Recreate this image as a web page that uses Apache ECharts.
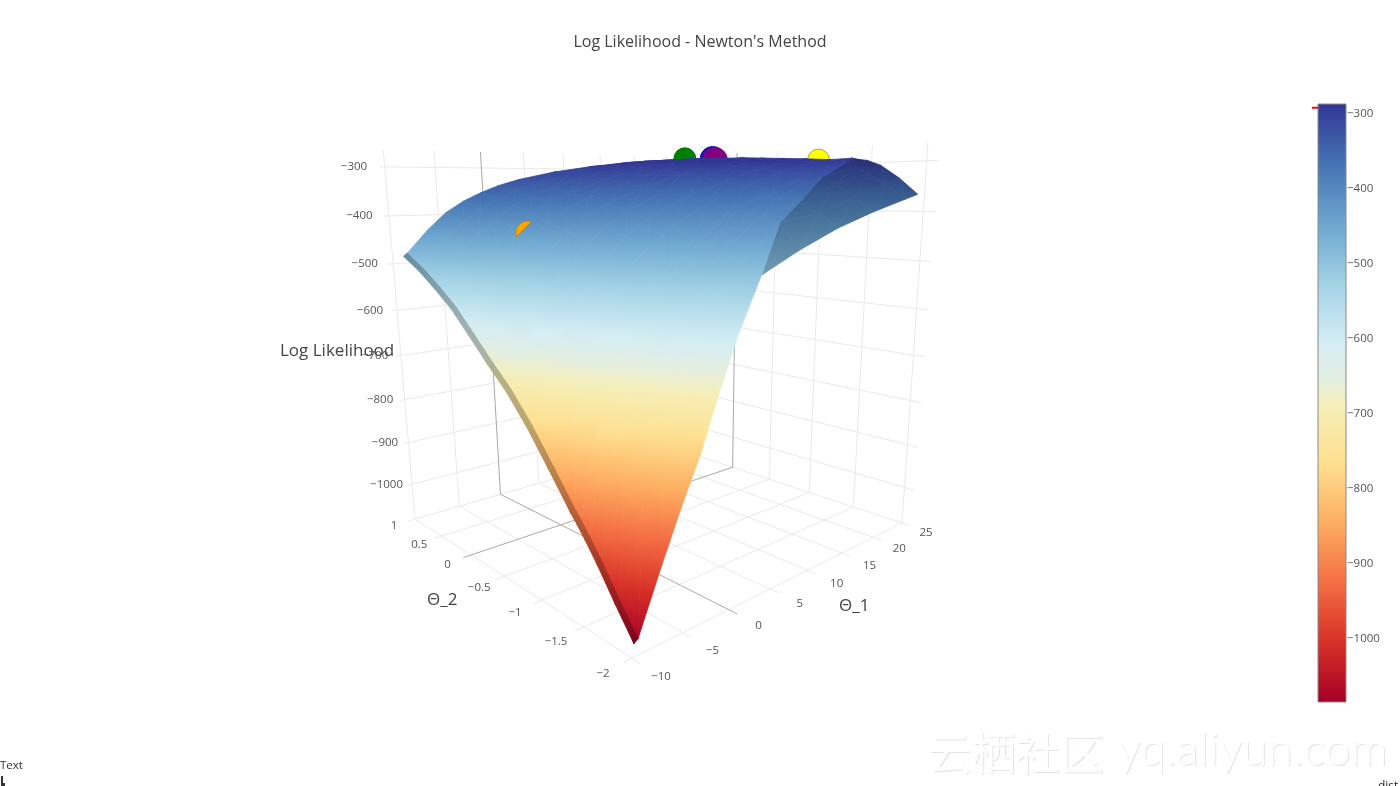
<!DOCTYPE html>
<html><head><meta charset="utf-8"><style>html,body{margin:0;padding:0;background:#fff}#c{width:1400px;height:786px}</style>
<script src="https://cdn.jsdelivr.net/npm/echarts@6/dist/echarts.min.js"></script></head><body><div id="c"></div>
<script>
const theta1Ticks=[-10,-5,0,5,10,15,20,25];
const theta2Ticks=[-2,-1.5,-1,-0.5,0,0.5,1];
const zTicks=[-1000,-900,-800,-700,-600,-500,-400,-300];
const theta1=[-8.75,-8.35,-6,-4,-2,0,2,4.5,9,14,19,24,26];
const theta2=[-1.89,-1.71,-1.53,-1.40,-1.31,-1.25,-1,-.75,-.5,-.25,0,.25,.5,.75,1.03];
const logLik=[
[-1084,-1078,-965,-874,-790,-688,-594,-497,-460,-425,-398,-375,-366],
[-1032,-1026,-902,-815,-723,-629,-547,-479,-412,-399,-369,-347,-332],
[-977,-971,-849,-760,-670,-580,-509,-462,-402,-378,-345,-323,-305],
[-941,-935,-813,-722,-633,-551,-493,-451,-396,-362,-330,-308,-294],
[-918,-912,-788,-699,-610,-533,-485,-444,-390,-355,-326,-299,-291],
[-904,-898,-772,-685,-595,-522,-480,-440,-388,-353,-325,-295,-288],
[-838,-832,-710,-623,-553,-489,-458,-422,-377,-345,-316,-294,-289],
[-774,-768,-657,-571,-518,-470,-438,-407,-366,-336,-307,-290,-285],
[-719,-713,-606,-526,-490,-453,-422,-392,-356,-326,-300,-286,-282],
[-675,-669,-558,-508,-468,-433,-406,-379,-347,-317,-295,-283,-279],
[-628,-622,-522,-482,-445,-415,-390,-367,-337,-309,-291,-280,-276],
[-582,-576,-495,-458,-425,-398,-376,-356,-327,-302,-287,-277,-275],
[-547,-541,-474,-437,-407,-382,-363,-345,-319,-296,-284,-275,-275],
[-515,-509,-451,-417,-390,-368,-352,-335,-311,-292,-281,-275,-275],
[-486,-480,-431,-396,-372,-354,-339,-325,-307,-293,-282,-275,-275]];
const creaseTheta1=[4.5,9,14,19,24,26], creaseTheta2=[-1.89,-1.71,-1.53,-1.40,-1.31,-1.25];
const iterTheta1=[9.45,12.9,13.25,20.8,.18], iterTheta2=[-.7,-.71,-.705,-1.24,.334], iterZ=[-291,-290,-292,-294,-440];
const colorStops=[[-1084,'#a50026'],[-1004,'#d73027'],[-925,'#f46d43'],[-845,'#fdae61'],[-765,'#fee090'],[-690,'#f5efb8'],[-650,'#e2eee4'],[-605,'#d4edf4'],[-530,'#a5d4e6'],[-450,'#6fa8d0'],[-370,'#4575b4'],[-287,'#313695']];

function proj(t1,t2,z){const u=(t1+10)/35,v=(t2+2)/3,w=(z+1085)/820;const D=1+.3951*u+.4326*v-.15*w;return [(632+626.4*u-37.5*v-103*w)/D,(658+71.6*u+85.5*v-552*w)/D];}
function depth(t1,t2,z){const u=(t1+10)/35,v=(t2+2)/3,w=(z+1085)/820;return 1+.3951*u+.4326*v-.15*w;}
function creaseAt(a){for(let i=1;i<creaseTheta1.length;i++)if(a<=creaseTheta1[i]){const f=(a-creaseTheta1[i-1])/(creaseTheta1[i]-creaseTheta1[i-1]);return creaseTheta2[i-1]+f*(creaseTheta2[i]-creaseTheta2[i-1]);}return creaseTheta2[creaseTheta2.length-1];}
function rgb(h){return [1,3,5].map(i=>parseInt(h.substr(i,2),16));}
function col(z,s){z=Math.max(-1084,Math.min(-287,z));let i=1;while(i<colorStops.length-1&&z>colorStops[i][0])i++;const f=(z-colorStops[i-1][0])/(colorStops[i][0]-colorStops[i-1][0]);const a=rgb(colorStops[i-1][1]),b=rgb(colorStops[i][1]);return 'rgb('+a.map((v,k)=>Math.round((v+(b[k]-v)*f)*s)).join(',')+')';}
const tris=[];
for(let j=0;j<theta2.length-1;j++)for(let i=0;i<theta1.length-1;i++){
 const V=(a,b)=>[theta1[i+a],theta2[j+b],logLik[j+b][i+a]];
 [[V(0,0),V(1,0),V(1,1)],[V(0,0),V(1,1),V(0,1)]].forEach(t=>{
  const ca=(t[0][0]+t[1][0]+t[2][0])/3,cb=(t[0][1]+t[1][1]+t[2][1])/3,cz=(t[0][2]+t[1][2]+t[2][2])/3;
  let s=1;if(ca<-8.35)s=.74;else if(ca>4.5&&cb<creaseAt(ca))s=.8;
  tris.push({d:depth(ca,cb,cz),row:[...t[0],...t[1],...t[2],s]});
 });
}
tris.sort((a,b)=>b.d-a.d);
function surf(p,api){
 const P=[0,3,6].map(o=>{const q=proj(api.value(o),api.value(o+1),api.value(o+2));return api.coord(q).concat(api.value(o+2));});
 const s=api.value(9);
 const e1=[P[1][0]-P[0][0],P[1][1]-P[0][1]],e2=[P[2][0]-P[0][0],P[2][1]-P[0][1]],d1=P[1][2]-P[0][2],d2=P[2][2]-P[0][2];
 const det=e1[0]*e2[1]-e1[1]*e2[0];let fill;
 const zs=P.map(q=>q[2]),mn=Math.min(...zs),mx=Math.max(...zs);
 if(Math.abs(det)<1e-3||mx-mn<.5)fill=col((mn+mx)/2,s);else{
  const g=[(d1*e2[1]-d2*e1[1])/det,(-d1*e2[0]+d2*e1[0])/det],L=g[0]*g[0]+g[1]*g[1],pm=P[zs.indexOf(mn)],k=(mx-mn)/L;
  const st=[];for(let n=0;n<=5;n++)st.push({offset:n/5,color:col(mn+(mx-mn)*n/5,s)});
  fill=new echarts.graphic.LinearGradient(pm[0],pm[1],pm[0]+g[0]*k,pm[1]+g[1]*k,st,true);}
 return {type:'polygon',shape:{points:P.map(q=>[q[0],q[1]])},style:{fill:fill,stroke:fill,lineWidth:.8}};
}
const zB=-1085,zT=-265;
const lines=[];
theta1Ticks.forEach(t=>{const k=t===0?1:0;lines.push([t,-2.08,zB,t,1,zB,k]);lines.push([t,1,zB,t,1,zT,k]);});
theta2Ticks.forEach(t=>{const k=t===0?1:0;lines.push([-10.8,t,zB,25,t,zB,k]);lines.push([25,t,zB,25,t,zT,k]);});
zTicks.forEach(z=>{lines.push([-10.5,1,z,25,1,z,0]);lines.push([25,-2.1,z,25,1,z,0]);});
lines.sort((a,b)=>a[6]-b[6]);
function line(p,api){const a=api.coord(proj(api.value(0),api.value(1),api.value(2))),b=api.coord(proj(api.value(3),api.value(4),api.value(5)));const k=api.value(6);
 return {type:'line',shape:{x1:a[0],y1:a[1],x2:b[0],y2:b[1]},style:{stroke:k?'#a8a8a8':'#e9e9e9',lineWidth:1}};}
const lab=v=>String(v).replace('-','\u2212');
const tl=[];
zTicks.forEach(z=>tl.push([-10,1,z,0,lab(z)]));
theta2Ticks.forEach(t=>tl.push([-10,t,zB,1,lab(t)]));
theta1Ticks.forEach(t=>tl.push([t,-2,zB,2,lab(t)]));
function tick(p,api){const c=api.coord(proj(api.value(0),api.value(1),api.value(2)));const k=api.value(3),r=tl[p.dataIndex];let dx,dy,al='center';
 if(k===0){const w=(r[2]+1085)/820;dx=-8-10*w;dy=0;al='right';}
 else if(k===1){const f=1-(r[1]+2)/3;dx=-21-8*f;dy=7+9*f;}
 else{const f=(r[0]+10)/35;dx=29-5*f+3*Math.sin(Math.PI*f);dy=19-9*f;}
 return {type:'text',x:c[0]+dx,y:c[1]+dy,style:{text:r[4],fill:'#555',font:'11.5px "Open Sans"',align:al,verticalAlign:'middle'}};}
const mstyle=[['#008000','#008000',11],['#1414b4','#1414b4',12.5],['#800080','#800080',12.5],['#ffff00','#a8a83a',11]];
function mark(p,api){const c=api.coord(proj(api.value(0),api.value(1),api.value(2)));const m=mstyle[p.dataIndex];return {type:'circle',shape:{cx:c[0],cy:c[1],r:m[2]},style:{fill:m[0],stroke:m[1],lineWidth:1}};}
function orange(p,api){const c=api.coord(proj(api.value(0),api.value(1),api.value(2)));const r=12.2,pts=[];const a0=Math.PI*1.25,half=Math.acos((r-6.5)/r);for(let i=0;i<=16;i++){const a=a0-half+2*half*i/16;pts.push([c[0]+r*Math.cos(a),c[1]+r*Math.sin(a)]);}
 return {type:'polygon',shape:{points:pts},style:{fill:'#ffa500',stroke:'#b08a20',lineWidth:1}};}
function bar(p,api){const a=api.coord([0,-287]),b=api.coord([1,-1084]);const st=colorStops.map(s=>({offset:(-287-s[0])/797,color:s[1]})).reverse();
 return {type:'rect',shape:{x:a[0],y:a[1],width:b[0]-a[0],height:b[1]-a[1]},style:{fill:new echarts.graphic.LinearGradient(0,0,0,1,st),stroke:'#8a8a8a',lineWidth:1}};}
function redtick(p,api){const a=api.coord([0,api.value(1)]);return {type:'line',shape:{x1:a[0]-6,y1:a[1],x2:a[0],y2:a[1]},style:{stroke:'#e81010',lineWidth:2}};}
const chart=echarts.init(document.getElementById('c'));
const F='"Open Sans"';
const wm=(dx,dy,fill)=>[
{type:'text',z:0,left:928+dx,top:731+dy,style:{text:'\u4e91\u6816\u793e\u533a',font:'44px "Noto Sans CJK SC"',fill}},
{type:'text',z:0,left:1118+dx,top:727+dy,style:{text:'yq.aliyun.com',font:'300 46px Lato',fill}}];
chart.setOption({animation:false,textStyle:{fontFamily:F},
title:{text:"Log Likelihood - Newton's Method",left:'center',top:29,textStyle:{fontSize:16,fontWeight:'normal',color:'#444',fontFamily:F}},
grid:[{left:0,right:0,top:0,bottom:0},{left:1318,top:104,width:28,height:598}],
xAxis:[{type:'value',min:0,max:1400,show:false},{type:'value',gridIndex:1,min:0,max:1,show:false}],
yAxis:[{type:'value',min:0,max:786,inverse:true,show:false},
{type:'value',gridIndex:1,min:-1084,max:-287,position:'right',splitLine:{show:false},axisLine:{show:false},axisTick:{show:false},axisLabel:{color:'#555',fontSize:11.5,margin:1,padding:[2,0,0,0],fontFamily:F,customValues:zTicks,formatter:lab}}],
series:[
{type:'custom',clip:false,silent:true,z:1,renderItem:line,data:lines},
{type:'custom',clip:false,silent:true,z:2,renderItem:tick,data:tl.map(r=>r.slice(0,4))},
{type:'custom',clip:false,silent:true,z:3,renderItem:mark,data:iterTheta1.slice(0,4).map((t,i)=>[t,iterTheta2[i],iterZ[i]])},
{type:'custom',clip:false,silent:true,z:4,renderItem:surf,data:tris.map(t=>t.row)},
{type:'custom',clip:false,silent:true,z:5,renderItem:orange,data:[[iterTheta1[4],iterTheta2[4],iterZ[4]]]},
{type:'custom',clip:false,silent:true,z:6,xAxisIndex:1,yAxisIndex:1,renderItem:bar,data:[[0,-287]]},
{type:'custom',clip:false,silent:true,z:6,xAxisIndex:1,yAxisIndex:1,renderItem:redtick,data:[[0,-292]]}
],
graphic:[
{type:'text',z:10,left:280,top:343,style:{text:'Log Likelihood',font:'17px '+F,fill:'#444'}},
{type:'text',z:10,left:427,top:592,style:{text:'\u0398_2',font:'17px '+F,fill:'#444'}},
{type:'text',z:10,left:839,top:598,style:{text:'\u0398_1',font:'17px '+F,fill:'#444'}},
{type:'text',z:10,left:0,top:760,style:{text:'Text',font:'11.5px '+F,fill:'#333'}},
{type:'text',z:10,left:1378,top:781,style:{text:'dist',font:'12px '+F,fill:'#222'}},
{type:'rect',z:10,shape:{x:1,y:776,width:2,height:10},style:{fill:'#333'}},
{type:'rect',z:10,shape:{x:1,y:783,width:4,height:3},style:{fill:'#333'}},
...wm(1,1.5,'#e4e4e4'),...wm(0,0,'#ffffff')
]});
</script></body></html>
